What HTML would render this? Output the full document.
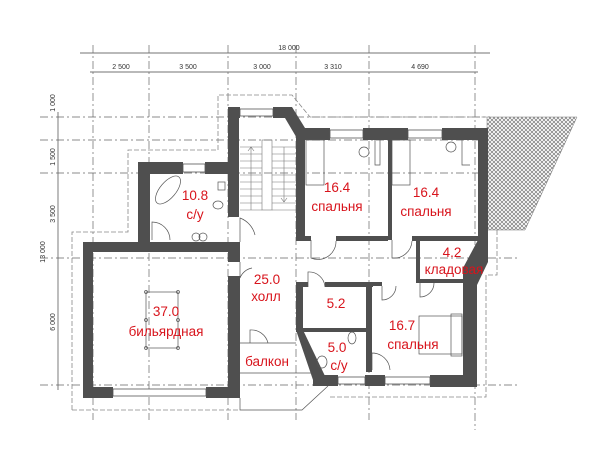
<!DOCTYPE html>
<html><head><meta charset="utf-8"><style>
html,body{margin:0;padding:0;background:#fff;width:600px;height:449px;overflow:hidden}
svg{display:block}
.t{font-family:"Liberation Sans",sans-serif;font-size:13.5px;fill:#d8141c;text-anchor:middle}
.d{font-family:"Liberation Sans",sans-serif;font-size:7px;fill:#333;text-anchor:middle}
</style></head><body>
<svg width="600" height="449" viewBox="0 0 600 449" xmlns="http://www.w3.org/2000/svg">
<defs>
<pattern id="h" width="4" height="4" patternUnits="userSpaceOnUse">
<rect width="4" height="4" fill="#fff"/><path d="M0 0L4 4M4 0L0 4" stroke="#777" stroke-width="0.7"/>
</pattern>
</defs>
<g stroke="#444" stroke-width="0.7" fill="none">
<line x1="80" y1="53" x2="490" y2="53"/>
<line x1="90" y1="72" x2="478" y2="72"/>
<line x1="58" y1="112" x2="58" y2="390"/>
</g>
<g stroke="#666" stroke-width="0.7" stroke-dasharray="8,3,2,3" fill="none">
<line x1="93" y1="45" x2="93" y2="420"/>
<line x1="149" y1="45" x2="149" y2="420"/>
<line x1="228" y1="45" x2="228" y2="420"/>
<line x1="296" y1="45" x2="296" y2="420"/>
<line x1="369" y1="45" x2="369" y2="420"/>
<line x1="475" y1="45" x2="475" y2="430"/>
<line x1="40" y1="117" x2="490" y2="117"/>
<line x1="40" y1="140" x2="490" y2="140"/>
<line x1="40" y1="173" x2="500" y2="173"/>
<line x1="40" y1="258" x2="520" y2="258"/>
<line x1="40" y1="385" x2="520" y2="385"/>
</g>
<g stroke="#888" stroke-width="0.8" stroke-dasharray="5,2" fill="none">
<path d="M72 410 V232 H128 V150 H218 V95 H292 L310 117 H488"/>
<path d="M72 410 H240 M330 397 H486 V275 H497 V230"/>
</g>
<text class="d" x="289" y="50">18 000</text>
<text class="d" x="121" y="69">2 500</text>
<text class="d" x="188" y="69">3 500</text>
<text class="d" x="262" y="69">3 000</text>
<text class="d" x="333" y="69">3 310</text>
<text class="d" x="420" y="69">4 690</text>
<text class="d" transform="translate(55,103) rotate(-90)">1 000</text>
<text class="d" transform="translate(55,157) rotate(-90)">1 500</text>
<text class="d" transform="translate(55,214) rotate(-90)">3 500</text>
<text class="d" transform="translate(45,252) rotate(-90)">13 000</text>
<text class="d" transform="translate(55,322) rotate(-90)">6 000</text>
<polygon points="487,117 577,117 525,230 487,230" fill="url(#h)" stroke="#777" stroke-width="0.5"/>
<g fill="#4f4f4f">
<rect x="83" y="242" width="10" height="156"/>
<rect x="83" y="242" width="157" height="10"/>
<rect x="83" y="387" width="30" height="11"/>
<rect x="206" y="387" width="34" height="11"/>
<rect x="228" y="242" width="12" height="20"/>
<rect x="228" y="276" width="12" height="122"/>
<rect x="138" y="162" width="12" height="80"/>
<rect x="138" y="162" width="45" height="12"/>
<rect x="205" y="162" width="25" height="12"/>
<rect x="228" y="107" width="11" height="110"/>
<rect x="228" y="107" width="12" height="11"/>
<rect x="273" y="107" width="14" height="11"/>
<polygon points="284,107 292,107 305,128 305,140 298,140 285,118"/>
<rect x="296" y="128" width="9" height="112"/>
<rect x="296" y="128" width="34" height="12"/>
<rect x="363" y="128" width="45" height="12"/>
<rect x="442" y="128" width="46" height="12"/>
<rect x="478" y="128" width="10" height="112"/>
<polygon points="478,240 488,240 488,262 477,285 463,285 463,268"/>
<rect x="463" y="268" width="14" height="119"/>
<rect x="296" y="236" width="15" height="5"/>
<rect x="336" y="236" width="52" height="5"/>
<rect x="388" y="140" width="4" height="100"/>
<rect x="412" y="236" width="66" height="5"/>
<rect x="416" y="240" width="4" height="43"/>
<rect x="420" y="279" width="45" height="4"/>
<rect x="296" y="282" width="7" height="50"/>
<rect x="296" y="282" width="12" height="5"/>
<rect x="325" y="282" width="48" height="5"/>
<rect x="296" y="328" width="75" height="4"/>
<polygon points="296,330 303,330 325,376 322,386 313,380"/>
<rect x="313" y="375" width="25" height="11"/>
<rect x="366" y="282" width="6" height="90"/>
<rect x="365" y="375" width="20" height="11"/>
<rect x="430" y="375" width="47" height="12"/>
<rect x="372" y="282" width="10" height="4"/>
</g>
<g fill="#fff" stroke="#555" stroke-width="0.8">
<rect x="240" y="109" width="33" height="7"/>
<rect x="183" y="164" width="22" height="8"/>
<rect x="330" y="130" width="33" height="8"/>
<rect x="408" y="130" width="34" height="8"/>
<rect x="113" y="389" width="93" height="7"/>
<rect x="385" y="377" width="45" height="7"/>
<rect x="338" y="377" width="27" height="7"/>
</g>
<g stroke="#777" stroke-width="0.6" fill="none">
<rect x="262" y="140" width="10" height="70"/>
<path d="M240 147H262M240 154H262M240 161H262M240 168H262M240 175H262M240 182H262M240 189H262M240 196H262M240 203H262M240 210H262"/>
<path d="M272 147H296M272 154H296M272 161H296M272 168H296M272 175H296M272 182H296M272 189H296M272 196H296M272 203H296M272 210H296"/>
<path d="M251 210V147M248 151L251 147L254 151M284 147V202M281 198L284 202L287 198"/>
</g>
<g stroke="#555" stroke-width="0.7" fill="none">
<ellipse cx="168" cy="190" rx="8" ry="17" transform="rotate(40 168 190)"/>
<path d="M152 240 V222 A18 18 0 0 1 170 240"/>
<rect x="218" y="182" width="7" height="8"/>
<ellipse cx="218" cy="205" rx="5" ry="4"/>
<circle cx="196" cy="237" r="4"/><circle cx="203" cy="237" r="4"/>
<path d="M240 242 V218 A24 24 0 0 1 255 235"/>
<path d="M240 262 V278 A16 16 0 0 1 252 268"/>
<rect x="146" y="292" width="32" height="56"/>
<circle cx="146" cy="292" r="1.5"/><circle cx="178" cy="292" r="1.5"/><circle cx="146" cy="348" r="1.5"/><circle cx="178" cy="348" r="1.5"/><circle cx="146" cy="320" r="1.5"/><circle cx="178" cy="320" r="1.5"/>
<rect x="306" y="140" width="18" height="45"/>
<circle cx="364" cy="152" r="5"/>
<rect x="392" y="140" width="18" height="45"/>
<circle cx="451" cy="147" r="5"/>
<path d="M375 140 V165 H380 V140 M462 140 V165 H470"/>
<path d="M311 240 V258 A18 18 0 0 0 336 241"/>
<path d="M392 240 V258 A18 18 0 0 0 412 241"/>
<path d="M308 287 V272 A16 16 0 0 1 325 287"/>
<path d="M382 286 V300 A14 14 0 0 0 396 286"/>
<path d="M420 283 V297 A14 14 0 0 0 434 283"/>
<path d="M372 370 V353 A18 18 0 0 1 390 370"/>
<rect x="419" y="316" width="43" height="38"/>
<rect x="451" y="314" width="11" height="42"/>
<ellipse cx="352" cy="338" rx="4" ry="6"/>
<ellipse cx="322" cy="362" rx="5" ry="6"/>
<path d="M240 343 H296 M240 373 H312 M240 398 V410 H302 L328 386"/>
<path d="M250 343 V330 A17 17 0 0 1 268 343"/>
</g>
<text class="t" x="195" y="200">10.8</text>
<text class="t" x="195" y="219">с/у</text>
<text class="t" x="337" y="192">16.4</text>
<text class="t" x="337" y="211">спальня</text>
<text class="t" x="426" y="197">16.4</text>
<text class="t" x="426" y="216">спальня</text>
<text class="t" x="452" y="257">4.2</text>
<text class="t" x="454" y="274">кладовая</text>
<text class="t" x="267" y="284">25.0</text>
<text class="t" x="266" y="301">холл</text>
<text class="t" x="166" y="316">37.0</text>
<text class="t" x="166" y="336">бильярдная</text>
<text class="t" x="336" y="308">5.2</text>
<text class="t" x="402" y="330">16.7</text>
<text class="t" x="413" y="349">спальня</text>
<text class="t" x="337" y="352">5.0</text>
<text class="t" x="339" y="370">с/у</text>
<text class="t" x="267" y="366">балкон</text>
</svg>
</body></html>
